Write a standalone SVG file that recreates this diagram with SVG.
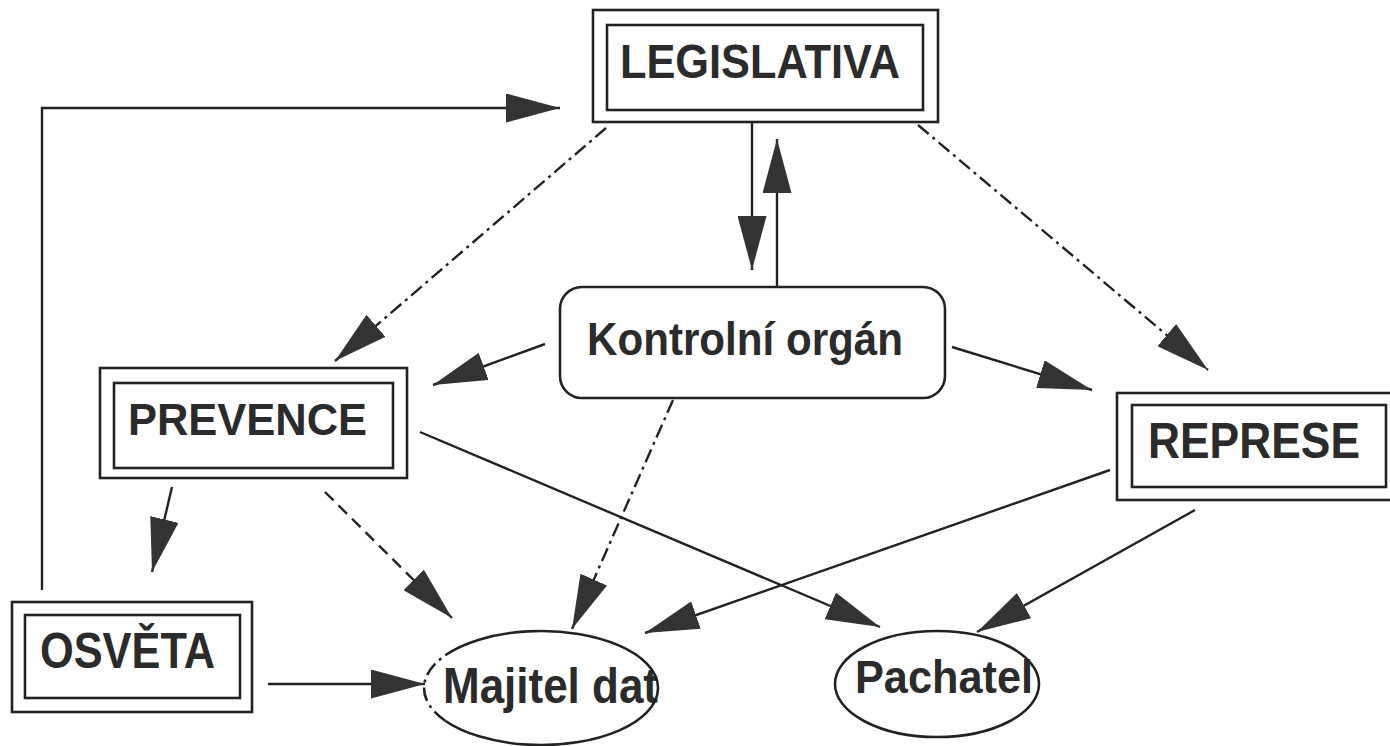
<svg xmlns="http://www.w3.org/2000/svg" width="1390" height="746" viewBox="0 0 1390 746">
<style>
.box{fill:none;stroke:#222;stroke-width:2.6}
.lbl{font-family:"Liberation Sans",Arial,sans-serif;font-weight:bold;fill:#2b2b2b}
.c{fill:none;stroke:#222;stroke-width:2.4}
.dd{stroke-dasharray:14 5 3 5}
.ds{stroke-dasharray:12 7}
</style>
<defs>
<marker id="ah" markerUnits="userSpaceOnUse" viewBox="0 0 54 29" refX="54" refY="14.5" markerWidth="54" markerHeight="29" orient="auto">
<path d="M0,0 L54,14.5 L0,29 z" fill="#333"/>
</marker>
</defs>
<rect width="1390" height="746" fill="#fff"/>
<g id="connectors">
<polyline class="c" points="42,590 42,108 560,108" marker-end="url(#ah)"/>
<line class="c dd" x1="606" y1="128" x2="335" y2="361" marker-end="url(#ah)"/>
<line class="c" x1="752" y1="122" x2="752" y2="270" marker-end="url(#ah)"/>
<line class="c" x1="777" y1="287" x2="777" y2="139" marker-end="url(#ah)"/>
<line class="c dd" x1="918" y1="125" x2="1208" y2="370" marker-end="url(#ah)"/>
<line class="c" x1="545" y1="344" x2="433" y2="385" marker-end="url(#ah)"/>
<line class="c" x1="952" y1="347" x2="1092" y2="390" marker-end="url(#ah)"/>
<line class="c dd" x1="673" y1="400" x2="572" y2="629" marker-end="url(#ah)"/>
<line class="c ds" x1="325" y1="492" x2="452" y2="618" marker-end="url(#ah)"/>
<line class="c" x1="420" y1="432" x2="880" y2="627" marker-end="url(#ah)"/>
<line class="c" x1="172" y1="487" x2="152" y2="572" marker-end="url(#ah)"/>
<line class="c" x1="268" y1="684" x2="425" y2="684" marker-end="url(#ah)"/>
<line class="c" x1="1110" y1="470" x2="645" y2="633" marker-end="url(#ah)"/>
<line class="c" x1="1195" y1="510" x2="977" y2="632" marker-end="url(#ah)"/>
</g>
<g id="legislativa">
<rect class="box" x="593" y="10" width="345" height="112"/>
<rect class="box" x="607" y="25" width="316" height="85"/>
<text class="lbl" x="620" y="78" font-size="49" textLength="280" lengthAdjust="spacingAndGlyphs">LEGISLATIVA</text>
</g>
<g id="kontrolni">
<rect class="box" x="560" y="287" width="385" height="111" rx="22"/>
<text class="lbl" x="587" y="355" font-size="46" textLength="316" lengthAdjust="spacingAndGlyphs">Kontrolní orgán</text>
</g>
<g id="prevence">
<rect class="box" x="100" y="368" width="307" height="110"/>
<rect class="box" x="114" y="383" width="279" height="85"/>
<text class="lbl" x="128" y="435" font-size="45" textLength="239" lengthAdjust="spacingAndGlyphs">PREVENCE</text>
</g>
<g id="represe">
<rect class="box" x="1117" y="393" width="284" height="107"/>
<rect class="box" x="1132" y="405" width="254" height="82"/>
<text class="lbl" x="1148" y="458" font-size="50" textLength="212" lengthAdjust="spacingAndGlyphs">REPRESE</text>
</g>
<g id="osveta">
<rect class="box" x="12" y="602" width="240" height="110"/>
<rect class="box" x="25" y="615" width="215" height="83"/>
<text class="lbl" x="40" y="668" font-size="50" textLength="175" lengthAdjust="spacingAndGlyphs">OSVĚTA</text>
</g>
<g id="majitel">
<text class="lbl" x="443" y="703" font-size="50" textLength="215" lengthAdjust="spacingAndGlyphs">Majitel dat</text>
<path class="box" d="M 445.2,655.3 A 117,57 0 1 1 445.2,720.7"/>
<path class="box dd" d="M 445.2,720.7 A 117,57 0 0 1 445.2,655.3"/>
</g>
<g id="pachatel">
<ellipse class="box" cx="937" cy="684" rx="102" ry="53"/>
<text class="lbl" x="855" y="693" font-size="46" textLength="178" lengthAdjust="spacingAndGlyphs">Pachatel</text>
</g>
</svg>
